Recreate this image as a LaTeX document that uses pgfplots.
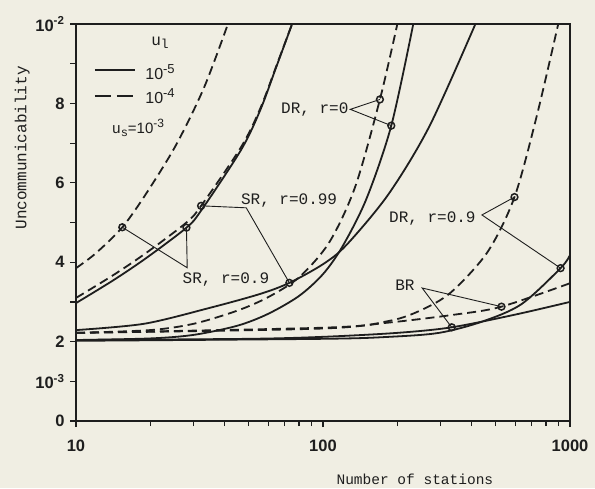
\documentclass[border=0pt]{standalone}
\usepackage{fontspec}
\setmainfont{Liberation Mono}
\newfontfamily\sansf{Liberation Sans}
\usepackage{pgfplots}
\pgfplotsset{compat=1.18}
\definecolor{paper}{RGB}{240,238,227}
\definecolor{ink}{RGB}{30,30,30}
\tikzset{sol/.style={draw=ink, line width=1.8pt, smooth, mark=none, solid},
         das/.style={draw=ink, line width=1.8pt, smooth, mark=none, dash pattern=on 9pt off 5pt}}
\begin{document}
\begin{tikzpicture}
\useasboundingbox (-76pt,-67pt) rectangle (519pt,421pt);
\fill[paper] (-76pt,-67pt) rectangle (519pt,421pt);
\begin{axis}[
  at={(0pt,0pt)}, anchor=south west,
  scale only axis, width=494pt, height=397pt,
  xmode=log, xmin=10, xmax=1000, ymin=0, ymax=10,
  axis line style={line width=1.4pt, ink},
  xtick={10,100,1000}, xticklabels={10,100,1000},
  minor xtick={20,30,40,50,60,70,80,90,200,300,400,500,600,700,800,900},
  ytick={0,1,...,10},
  yticklabels={0,10\textsuperscript{-3},2,,4,,6,,8,,10\textsuperscript{-2}},
  tick align=outside, xtick pos=bottom, ytick pos=left,
  major tick length=6pt, minor tick length=5pt,
  every tick/.style={line width=1.2pt, ink},
  ticklabel style={font=\sansf\bfseries\fontsize{16.5}{16.5}\selectfont, text=ink},
  xticklabel style={yshift=-9pt},
  yticklabel style={xshift=-2pt},
  xlabel={Number of stations}, ylabel={Uncommunicability},
  xlabel style={at={(axis description cs:0.686,-0.148)}, anchor=center, font=\fontsize{14.5}{15}\selectfont, text=ink},
  ylabel style={at={(axis description cs:-0.109,0.688)}, anchor=center, font=\fontsize{16}{16}\selectfont, text=ink},
  clip=true,
]
% SR, r=0.9
\addplot[das] coordinates {(10,3.85)(12,4.22)(15.4,4.88)(19.2,5.72)(25.4,6.95)(33,8.4)(41.5,10.05)};
\addplot[sol] coordinates {(10,2.97)(14.2,3.55)(19.4,4.12)(28,4.87)(32.1,5.3)(46.6,6.83)(55.7,7.83)(64.8,8.93)(76,10.1)};
% SR, r=0.99
\addplot[das] coordinates {(10,3.1)(14.2,3.68)(19.4,4.25)(28,5.0)(32.1,5.42)(46.6,6.9)(55.7,7.87)(64.8,8.95)(76,10.1)};
\addplot[sol] coordinates {(10,2.29)(18.9,2.45)(34.8,2.85)(55.6,3.2)(73.1,3.48)(100,3.95)(124.7,4.44)(184.5,5.72)(270,7.43)(414,10.0)};
% DR, r=0
\addplot[das] coordinates {(10,2.22)(20,2.29)(30,2.45)(45,2.78)(60,3.12)(80,3.62)(106,4.5)(135,5.9)(170,8.1)(200,10.0)};
\addplot[sol] coordinates {(10,2.04)(20,2.08)(30,2.17)(45,2.4)(60,2.7)(80,3.15)(100,3.7)(120,4.4)(150,5.6)(189,7.44)(232,10.0)};
% DR, r=0.9
\addplot[das] coordinates {(10,2.22)(100,2.33)(185,2.52)(251,2.8)(331,3.25)(464,4.26)(596,5.64)(734,7.69)(896,10.0)};
\addplot[sol] coordinates {(10,2.02)(100,2.07)(185,2.12)(295,2.22)(439,2.5)(635,2.94)(916,3.85)(1000,4.18)};
% BR
\addplot[das] coordinates {(10,2.22)(100,2.35)(185,2.48)(342,2.68)(528,2.88)(1000,3.47)};
\addplot[sol] coordinates {(10,2.04)(50,2.07)(100,2.12)(200,2.22)(332,2.36)(600,2.68)(1000,3.0)};
% annotation pointers
\draw[ink, line width=0.9pt] (axis cs:15.4,4.88) -- (axis cs:28.2,3.86) -- (axis cs:28,4.87);
\draw[ink, line width=0.9pt] (axis cs:32.1,5.42) -- (axis cs:48.9,5.37) -- (axis cs:73.1,3.48);
\draw[ink, line width=0.9pt] (axis cs:170,8.1) -- (axis cs:129,7.85) -- (axis cs:189,7.44);
\draw[ink, line width=0.9pt] (axis cs:596,5.64) -- (axis cs:440,5.19) -- (axis cs:916,3.85);
\draw[ink, line width=0.9pt] (axis cs:528,2.88) -- (axis cs:252,3.35) -- (axis cs:332,2.36);
% circles
\addplot[only marks, mark=o, mark size=3.4pt, mark options={line width=1.5pt, draw=ink, fill=none, solid}] coordinates {
(15.4,4.88)(28,4.87)(32.1,5.42)(73.1,3.48)(170,8.1)(189,7.44)(596,5.64)(916,3.85)(528,2.88)(332,2.36)};
% labels
\node[anchor=west, inner sep=0pt, font=\fontsize{16}{16}\selectfont, text=ink] at (axis cs:46.5,5.55) {SR, r=0.99};
\node[anchor=west, inner sep=0pt, font=\fontsize{16}{16}\selectfont, text=ink] at (axis cs:27,3.57) {SR, r=0.9};
\node[anchor=east, inner sep=0pt, font=\fontsize{16}{16}\selectfont, text=ink] at (axis cs:127,7.85) {DR, r=0};
\node[anchor=west, inner sep=0pt, font=\fontsize{16}{16}\selectfont, text=ink] at (axis cs:185,5.1) {DR, r=0.9};
\node[anchor=west, inner sep=0pt, font=\fontsize{16}{16}\selectfont, text=ink] at (axis cs:196,3.41) {BR};
% legend
\draw[ink, line width=1.8pt] (rel axis cs:0.038,0.884) -- (rel axis cs:0.119,0.884);
\draw[ink, line width=1.8pt, dash pattern=on 16pt off 6pt] (rel axis cs:0.038,0.819) -- (rel axis cs:0.119,0.819);
\node[anchor=west, inner sep=0pt, font=\sansf\fontsize{16}{16}\selectfont, text=ink] at (rel axis cs:0.140,0.879) {10\raisebox{0.75ex}{\fontsize{13}{13}\selectfont -5}};
\node[anchor=west, inner sep=0pt, font=\sansf\fontsize{16}{16}\selectfont, text=ink] at (rel axis cs:0.140,0.819) {10\raisebox{0.75ex}{\fontsize{13}{13}\selectfont -4}};
\node[anchor=center, inner sep=0pt, font=\fontsize{16}{16}\selectfont, text=ink] at (rel axis cs:0.170,0.952) {u\raisebox{-0.4ex}{\fontsize{13}{13}\selectfont l}};
\node[anchor=west, inner sep=0pt, font=\fontsize{15}{15}\selectfont, text=ink] at (rel axis cs:0.072,0.738) {u\raisebox{-0.45ex}{\fontsize{12}{12}\selectfont s}{\sansf =10\raisebox{0.75ex}{\fontsize{12}{12}\selectfont -3}}};
\end{axis}
\end{tikzpicture}
\end{document}
